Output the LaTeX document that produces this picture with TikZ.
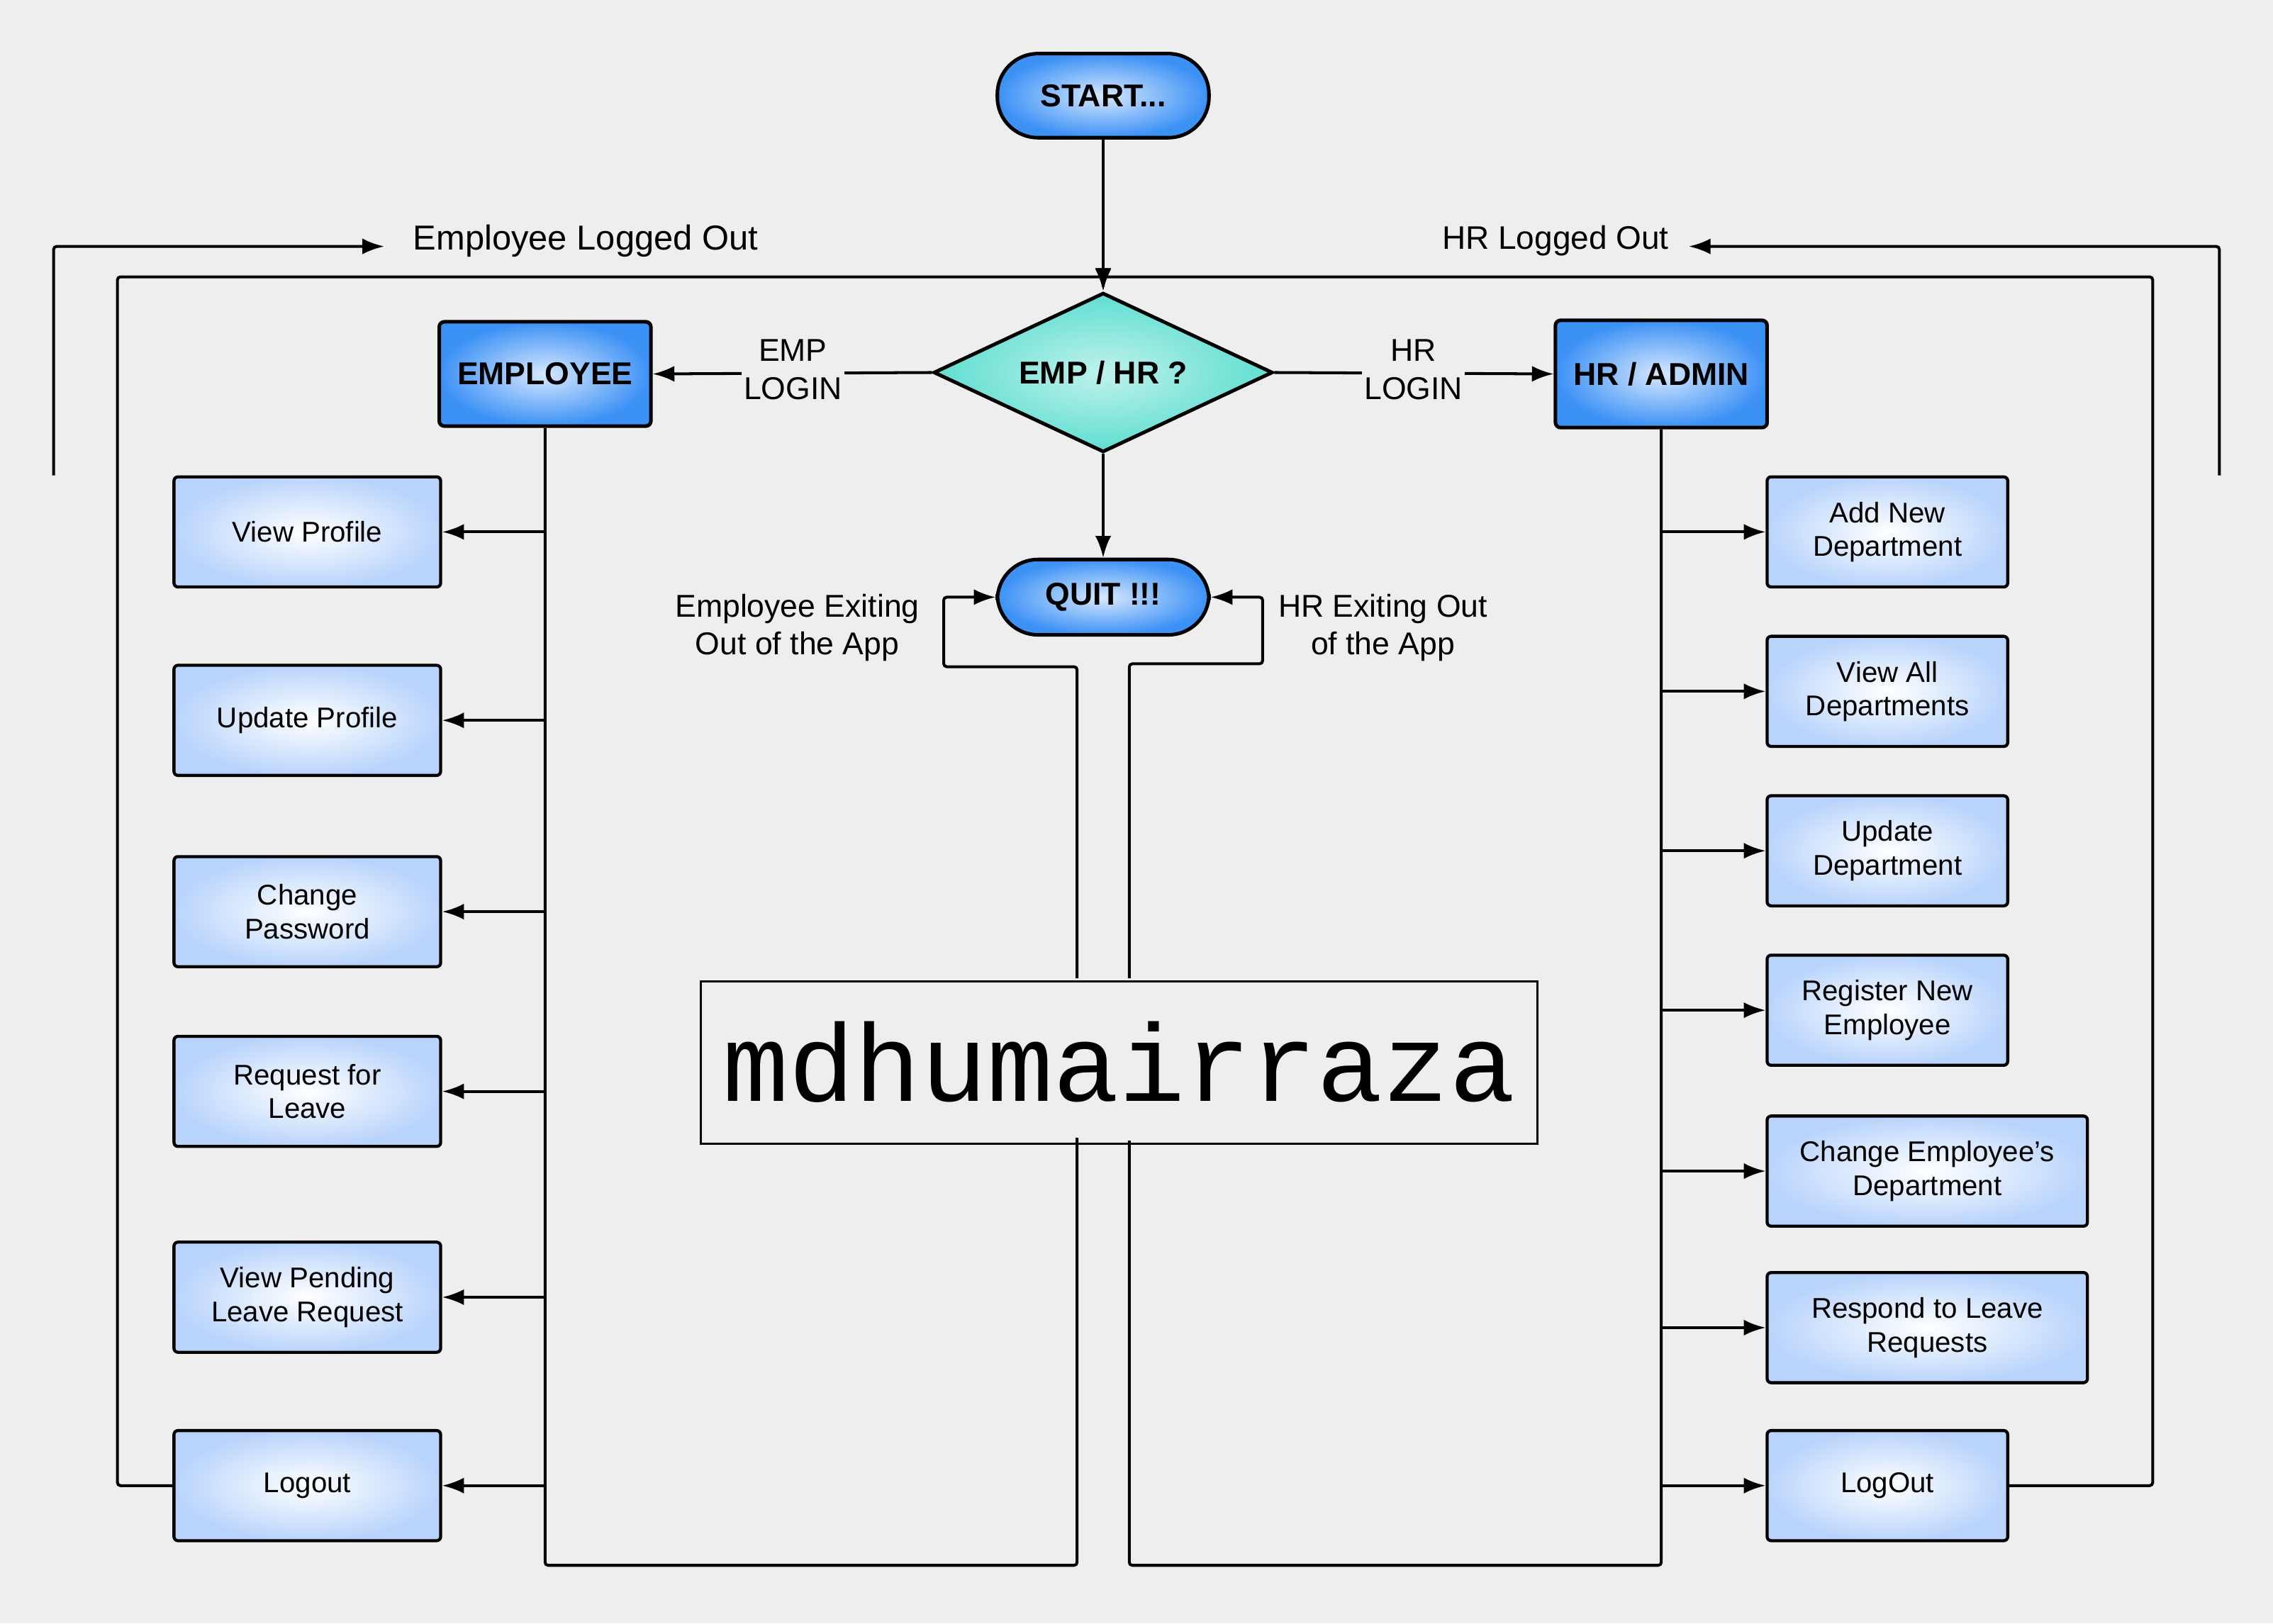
\documentclass[tikz,border=0pt]{standalone}
\usepackage{fontspec}
\setmainfont{Liberation Sans}
\newfontfamily\wmfont{Liberation Mono}
\usetikzlibrary{shapes.geometric,arrows.meta}
\definecolor{bg}{RGB}{238,238,238}
\definecolor{lbo}{RGB}{185,212,252}
\definecolor{hbo}{RGB}{60,145,245}
\definecolor{hbi}{RGB}{215,232,255}
\definecolor{dgo}{RGB}{95,222,208}
\begin{document}
\begin{tikzpicture}[x=0.05cm,y=-0.05cm,
  every node/.style={font=\fontsize{28}{33}\selectfont},
  sub/.style={draw,line width=3pt,rounded corners=4pt,inner color=white,outer color=lbo,align=center,minimum height=3.8cm},
  head/.style={draw,line width=3.5pt,rounded corners=5pt,inner color=hbi,outer color=hbo,align=center,font=\fontsize{31}{35}\selectfont\bfseries},
  pill/.style={head,rounded corners=1.4cm},
  ln/.style={line width=2.8pt,rounded corners=3pt},
  ar/.style={ln,-{Latex[length=0.75cm,width=0.55cm]}},
  lab/.style={align=center,fill=bg,inner sep=2pt},
  big/.style={font=\fontsize{31}{37}\selectfont,align=center}]
\useasboundingbox[fill=bg] (0,0) rectangle (1568,1120);
% main nodes
\node[pill,minimum width=7.3cm,minimum height=2.9cm] (start) at (761,66) {START...};
\node[diamond,draw,line width=3.5pt,inner color=white!60!dgo,outer color=dgo,aspect=2.13,minimum width=11.7cm,minimum height=5.5cm,inner sep=0pt,font=\fontsize{31}{35}\selectfont\bfseries] (dec) at (761,257) {EMP / HR ?};
\node[pill,minimum width=7.3cm,minimum height=2.6cm] (quit) at (761,412) {QUIT !!!};
\node[head,minimum width=7.3cm,minimum height=3.6cm] (emp) at (376,258) {EMPLOYEE};
\node[head,minimum width=7.3cm,minimum height=3.7cm] (hr) at (1146,258) {HR / ADMIN};
% left boxes
\foreach \n/\y/\t in {vp/367/View Profile,up/497/Update Profile,cp/629/Change\\Password,rl/753/Request for\\Leave,vl/895/View Pending\\Leave Request,lo/1025/Logout}
  \node[sub,minimum width=9.2cm] (\n) at (212,\y) {\t};
% right boxes
\foreach \n/\y/\t in {ad/367/Add New\\Department,va/477/View All\\Departments,ud/587/Update\\Department,rn/697/Register New\\Employee,lg/1025/LogOut}
  \node[sub,minimum width=8.3cm] (\n) at (1302,\y) {\t};
\foreach \n/\y/\t in {ce/808/Change Employee's\\Department,rr/916/Respond to Leave\\Requests}
  \node[sub,minimum width=11.05cm] (\n) at (1329.5,\y) {\t};
% watermark
\node[draw,line width=2pt,minimum width=28.85cm,minimum height=5.6cm,inner sep=0pt,font=\wmfont\fontsize{108}{110}\selectfont] (wm) at (772,733) {mdhumairraza};
% coordinates
\coordinate (top) at (761,200);
\coordinate (lb) at (376,1080);
\coordinate (rb) at (1146,1080);
% start -> decision
\draw[ar] (start) -- (dec.north);
\draw[ar] (dec.west) -- (emp.east);
\draw[ar] (dec.east) -- (hr.west);
\node[lab,big] (el) at (547,255) {EMP\\LOGIN};
\node[lab,big] (hl) at (975,255) {HR\\LOGIN};
\draw[ar] (dec.south) -- (quit.north);
% spines
\draw[ln] (emp.south) -- (lb) -- (743,1080) -- (743,785);
\draw[ar] (743,675) -- (743,460) -- (651,460) -- (651,412) -- (quit.west);
\draw[ln] (hr.south) -- (rb) -- (779,1080) -- (779,787);
\draw[ar] (779,675) -- (779,458) -- (871,458) -- (871,412) -- (quit.east);
\foreach \n in {vp,up,cp,rl,vl,lo} \draw[ar] (376,0 |- \n.east) -- (\n.east);
\foreach \n in {ad,va,ud,rn,ce,rr,lg} \draw[ar] (1146,0 |- \n.west) -- (\n.west);
% logouts
\draw[ar] (lo.west) -- (81,1025) -- (81,191) -- (761,191) -- (top);
\draw[ar] (lg.east) -- (1485,1025) -- (1485,191) -- (761,191) -- (top);
\draw[ar] (37,328) -- (37,170) -- (265,170);
\draw[ar] (1531,328) -- (1531,170) -- (1165,170);
\node[big,font=\fontsize{34}{40}\selectfont] (elo) at (404,166) {Employee Logged Out};
\node[big,font=\fontsize{32}{40}\selectfont] (hlo) at (1073,166) {HR Logged Out};
\node[big] (eex) at (550,433) {Employee Exiting\\Out of the App};
\node[big] (hex) at (954,433) {HR Exiting Out\\of the App};
\end{tikzpicture}
\end{document}
